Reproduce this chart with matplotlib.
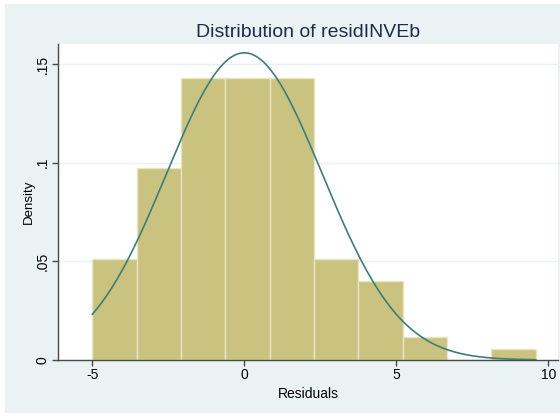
import numpy as np
import matplotlib
matplotlib.use("Agg")
import matplotlib.pyplot as plt
from matplotlib.patches import Rectangle

plt.rcParams['font.family'] = ['Liberation Sans', 'DejaVu Sans']

# Histogram of residuals (density scale), 10 bins starting at -5
bin_start = -5.0
bin_width = 1.459
bin_counts = [9, 17, 25, 25, 25, 9, 7, 2, 0, 1]
n_obs = sum(bin_counts)

# Fitted normal overlay
resid_mean = 0.0
resid_sd = 2.562

yticks = [0, 0.05, 0.10, 0.15]
ytick_labels = ["0", ".05", ".1", ".15"]
xticks = [-5, 0, 5, 10]
xtick_labels = ["-5", "0", "5", "10"]

W, H = 560, 416
fig = plt.figure(figsize=(W / 100, H / 100), dpi=100, facecolor="white")

# Graph region background
fig.patches.append(Rectangle((5 / W, 1 - 413 / H), (W - 5) / W, 409 / H,
                             transform=fig.transFigure, facecolor="#eaf2f3",
                             edgecolor="none", zorder=-5))

ax = fig.add_axes([58 / W, 1 - 360 / H, 500 / W, 316 / H])
ax.set_zorder(2)
ax.set_facecolor("white")

edges = bin_start + bin_width * np.arange(len(bin_counts) + 1)
density = np.array(bin_counts) / (n_obs * bin_width)
ax.bar(edges[:-1], density, width=bin_width, align="edge",
       color="#cac27f", edgecolor="#e9e5c4", linewidth=1.0, zorder=2)

xs = np.linspace(edges[0], edges[-1], 400)
pdf = np.exp(-0.5 * ((xs - resid_mean) / resid_sd) ** 2) / (resid_sd * np.sqrt(2 * np.pi))
ax.plot(xs, pdf, color="#3d7f78", linewidth=1.2, zorder=3)

ax.set_xlim(-6.13, 10.32)
ax.set_ylim(0, 0.1602)

ax.set_yticks(yticks)
ax.set_yticklabels(ytick_labels, rotation=90, va="center", fontsize=10)
ax.set_xticks(xticks)
ax.set_xticklabels(xtick_labels, fontsize=10)
ax.yaxis.grid(True, color="#eaf2f3", linewidth=1.0, zorder=0)
ax.set_axisbelow(True)

for side in ["top", "right"]:
    ax.spines[side].set_visible(False)
for side in ["left", "bottom"]:
    ax.spines[side].set_color("#4a4a4a")
    ax.spines[side].set_linewidth(1.0)
ax.tick_params(direction="out", length=4, width=1, color="#4a4a4a",
               labelcolor="black", pad=2)

ax.set_xlabel("Residuals", fontsize=10, labelpad=3)
ax.set_ylabel("Density", fontsize=9.5)
ax.yaxis.set_label_coords(-23 / 500, 0.5)
ax.set_title("Distribution of residINVEb", fontsize=14, color="#1e2d4f", pad=5)

fig.savefig("out.png", dpi=100, facecolor="white")
